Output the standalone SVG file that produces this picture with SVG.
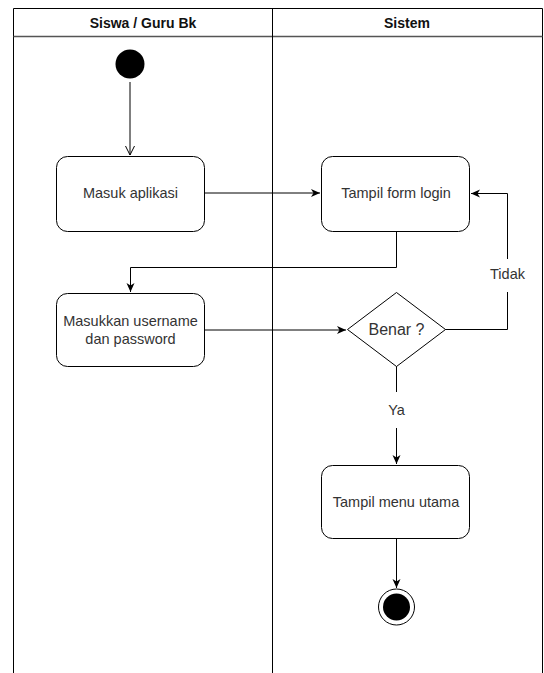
<svg xmlns="http://www.w3.org/2000/svg" width="544" height="673" viewBox="0 0 544 673">
<style>
text{font-family:"Liberation Sans",Arial,sans-serif;font-size:14.5px;fill:#333;text-anchor:middle}
.h{font-weight:bold;fill:#111;font-size:14px}
.lane{fill:none;stroke:#000;stroke-width:1}
.act{fill:#fff;stroke:#000;stroke-width:1}
.c{fill:none;stroke:#000;stroke-width:1}
.lbl{fill:#fff;stroke:none}
</style>
<defs>
<marker id="fa" viewBox="0 0 10 10" refX="9" refY="5" markerWidth="10" markerHeight="10" markerUnits="userSpaceOnUse" orient="auto">
<path d="M0,1 L9,5 L0,9 L2.5,5 Z" fill="#000"/>
</marker>
<marker id="oa" viewBox="0 0 10 10" refX="9" refY="5" markerWidth="10" markerHeight="10" markerUnits="userSpaceOnUse" orient="auto">
<path d="M0,0.5 L9,5 L0,9.5" fill="none" stroke="#000" stroke-width="1"/>
</marker>
</defs>
<g id="lanes">
<path class="lane" d="M13.5,673 V8.5 H542.5 V673"/>
<line x1="13.5" y1="36.5" x2="542.5" y2="36.5" stroke="#555" stroke-width="1.5"/>
<line x1="272.5" y1="8.5" x2="272.5" y2="673" stroke="#000"/>
<text class="h" x="143" y="28">Siswa / Guru Bk</text>
<text class="h" x="407" y="28">Sistem</text>
</g>
<g id="connectors">
<path class="c" d="M130,82 V155" marker-end="url(#oa)"/>
<path class="c" d="M204,193 H320" marker-end="url(#fa)"/>
<path class="c" d="M396.5,231 V267.5 H130.5 V292" marker-end="url(#fa)"/>
<path class="c" d="M204,330 H346" marker-end="url(#fa)"/>
<path class="c" d="M445,329.5 H507.5 V193.5 H471" marker-end="url(#fa)"/>
<rect class="lbl" x="486" y="259" width="44" height="33"/>
<text x="507.5" y="279">Tidak</text>
<path class="c" d="M396.5,366 V464" marker-end="url(#fa)"/>
<rect class="lbl" x="384" y="392" width="26" height="36"/>
<text x="396.5" y="415">Ya</text>
<path class="c" d="M396.5,539 V588" marker-end="url(#fa)"/>
</g>
<g id="start"><circle cx="130" cy="64" r="14.5" fill="#000"/></g>
<g id="masuk-aplikasi">
<rect class="act" x="56.5" y="156.5" width="148" height="75" rx="11"/>
<text x="130.5" y="198">Masuk aplikasi</text>
</g>
<g id="tampil-form-login">
<rect class="act" x="321.5" y="156.5" width="148" height="75" rx="11"/>
<text x="396" y="198">Tampil form login</text>
</g>
<g id="masukkan-username">
<rect class="act" x="56.5" y="293.5" width="148" height="73" rx="11"/>
<text x="130.5" y="326">Masukkan username</text>
<text x="130.5" y="344">dan password</text>
</g>
<g id="benar">
<path class="act" d="M396.5,292.5 L445.5,329.5 L396.5,366.5 L347.5,329.5 Z"/>
<text x="396.5" y="335" style="font-size:16px">Benar ?</text>
</g>
<g id="tampil-menu-utama">
<rect class="act" x="321.5" y="465.5" width="148" height="73" rx="11"/>
<text x="396" y="507">Tampil menu utama</text>
</g>
<g id="end">
<circle cx="396.5" cy="607" r="18" fill="#fff" stroke="#000" stroke-width="1"/>
<circle cx="396.5" cy="607" r="13.5" fill="#000"/>
</g>
</svg>
